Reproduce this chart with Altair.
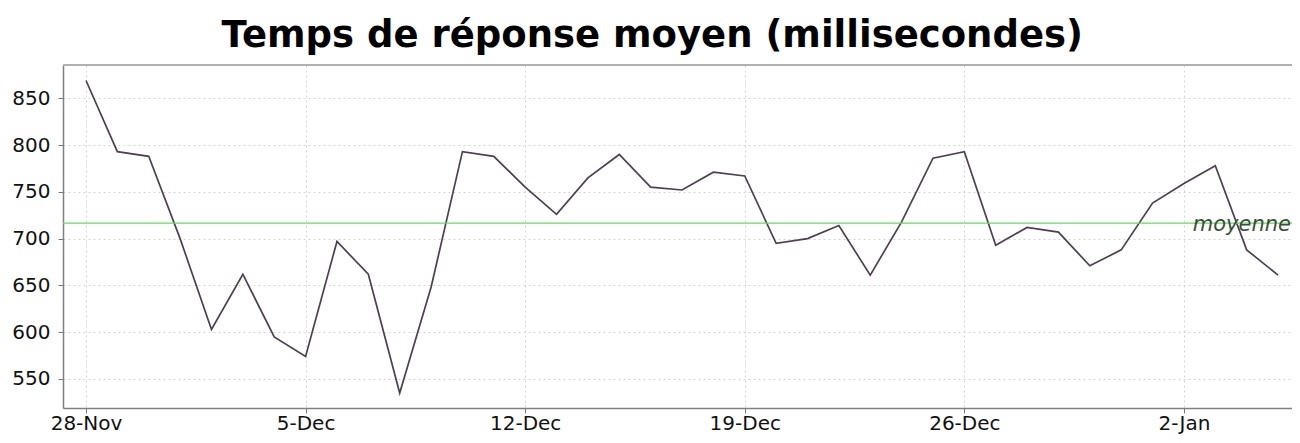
import altair as alt
import pandas as pd

dates = [
    "2010-11-28", "2010-11-29", "2010-11-30", "2010-12-01", "2010-12-02",
    "2010-12-03", "2010-12-04", "2010-12-05", "2010-12-06", "2010-12-07",
    "2010-12-08", "2010-12-09", "2010-12-10", "2010-12-11", "2010-12-12",
    "2010-12-13", "2010-12-14", "2010-12-15", "2010-12-16", "2010-12-17",
    "2010-12-18", "2010-12-19", "2010-12-20", "2010-12-21", "2010-12-22",
    "2010-12-23", "2010-12-24", "2010-12-25", "2010-12-26", "2010-12-27",
    "2010-12-28", "2010-12-29", "2010-12-30", "2010-12-31", "2011-01-01",
    "2011-01-02", "2011-01-03", "2011-01-04", "2011-01-05",
]
temps = [
    869, 793, 788, 700, 603, 662, 595, 574, 697, 662,
    535, 648, 793, 788, 755, 726, 765, 790, 755, 752,
    771, 767, 695, 700, 714, 661, 718, 786, 793, 693,
    712, 707, 671, 688, 738, 759, 778, 688, 661,
]
tick_dates = ["2010-11-28", "2010-12-05", "2010-12-12", "2010-12-19", "2010-12-26", "2011-01-02"]
y_ticks = [550, 600, 650, 700, 750, 800, 850]
mean_label = "moyenne"
title_text = "Temps de réponse moyen (millisecondes)"

PLOT_W = 1229
PLOT_H = 343

df = pd.DataFrame({"date": dates, "temps": temps})


def dt(s, h=0, m=0):
    y, mo, d = (int(v) for v in s.split("-"))
    return alt.DateTime(year=y, month=mo, date=d, hours=h, minutes=m, utc=True)


x_scale = alt.Scale(type="utc", domain=[dt("2010-11-27", 6, 24), dt("2011-01-05", 10, 41)])
y_scale = alt.Scale(domain=[519, 885.6], nice=False, zero=False)

grid_style = dict(grid=True, gridColor="#d4d4d4", gridDash=[2, 3], gridWidth=1)

x_enc = alt.X(
    "date:T",
    scale=x_scale,
    axis=alt.Axis(
        values=[dt(s) for s in tick_dates],
        format="%-d-%b",
        title=None,
        labelFont="DejaVu Sans",
        labelFontSize=20,
        labelColor="#111",
        labelPadding=0,
        tickSize=5,
        tickColor="#777",
        domainColor="#808080",
        domainWidth=1.5,
        **grid_style,
    ),
)
y_enc = alt.Y(
    "temps:Q",
    scale=y_scale,
    axis=alt.Axis(
        values=y_ticks,
        title=None,
        labelFont="DejaVu Sans",
        labelFontSize=20,
        labelColor="#111",
        labelPadding=8,
        tickSize=5,
        tickColor="#777",
        domainColor="#808080",
        domainWidth=1.5,
        **grid_style,
    ),
)

base = alt.Chart(df)

line = base.mark_line(color="#4e3f52", strokeWidth=1.7).encode(x=x_enc, y=y_enc)

top_border = base.mark_rule(color="#b0b0b0", strokeWidth=1.5).encode(
    x=alt.value(0), x2=alt.value(PLOT_W), y=alt.value(0)
)

mean_rule = base.mark_rule(color="#66d966", strokeWidth=1.3).encode(
    y=alt.Y("mean(temps):Q", scale=y_scale)
)

mean_text = base.mark_text(
    text=mean_label,
    align="right",
    baseline="middle",
    font="DejaVu Sans",
    fontStyle="italic",
    fontSize=21,
    color="#3d4d3d",
    dy=2,
).encode(
    y=alt.Y("mean(temps):Q", scale=y_scale),
    x=alt.value(PLOT_W - 1),
)

chart = (
    alt.layer(top_border, line, mean_rule, mean_text)
    .properties(
        width=PLOT_W,
        height=PLOT_H,
        title=alt.TitleParams(
            text=title_text,
            font="DejaVu Sans",
            fontSize=37,
            fontWeight="bold",
            color="#000",
            anchor="middle",
            frame="bounds",
            offset=9,
        ),
        autosize=alt.AutoSizeParams(type="none"),
        padding={"left": 55, "top": 57, "right": 0, "bottom": 26},
    )
    .configure_view(strokeWidth=0)
)

chart.save("out.html", embed_options={"renderer": "svg", "actions": False})
